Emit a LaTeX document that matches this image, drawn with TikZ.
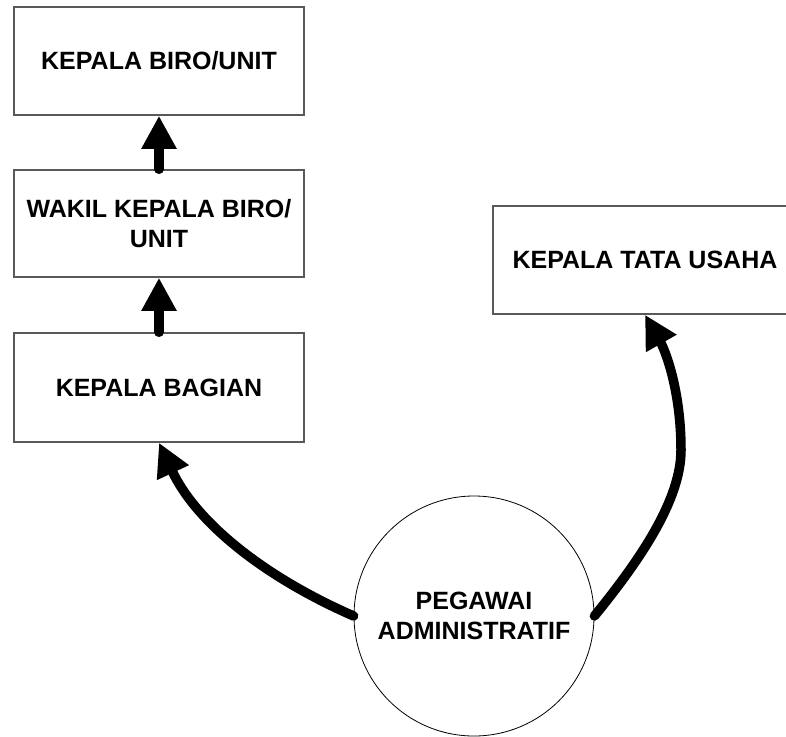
\documentclass[tikz,border=0pt]{standalone}
\usepackage{fontspec}
\setmainfont{Liberation Sans}
\usetikzlibrary{arrows.meta}
\tikzset{
  kotak/.style={draw=black!65,line width=1.5pt,minimum width=290pt,minimum height=108pt,align=center,inner sep=2pt},
  lingkar/.style={draw,circle,line width=.8pt,minimum size=240pt,inner sep=0pt,align=center},
  panah/.style={->,line width=9.5pt,line cap=round}
}
\begin{document}
\begin{tikzpicture}[x=1pt,y=-1pt,>={Triangle[length=33pt,width=33pt]},font=\bfseries\fontsize{25}{30.5}\selectfont]
			%========================
			\useasboundingbox (0,0) rectangle (786,736);
			\clip (0,0) rectangle (786,736);
			\node[kotak] (kbu) at (159,61) {KEPALA BIRO/UNIT};
			\node[kotak,minimum height=107pt] (wkbu) at (159,223.5) {WAKIL KEPALA BIRO/\\UNIT};
			\node[kotak,minimum height=109pt] (kb) at (159,387.5) {KEPALA BAGIAN};
			\node[kotak,minimum width=304pt] (ktu) at (645,260) {KEPALA TATA USAHA};
			\node[lingkar] (pa) at (474,616) {PEGAWAI\\ADMINISTRATIF};
			\draw[panah] (wkbu) -- (kbu);
			\draw[panah] (kb) -- (wkbu);
			\draw[panah] (pa.west) .. controls (260,575) and (195,520) .. (kb.south);
			\draw[panah] (pa.east) .. controls (640,560) and (681,500) .. (681,450)
			      .. controls (681,390) and (665,350) .. (ktu.south);
			%========================
\end{tikzpicture}
\end{document}
